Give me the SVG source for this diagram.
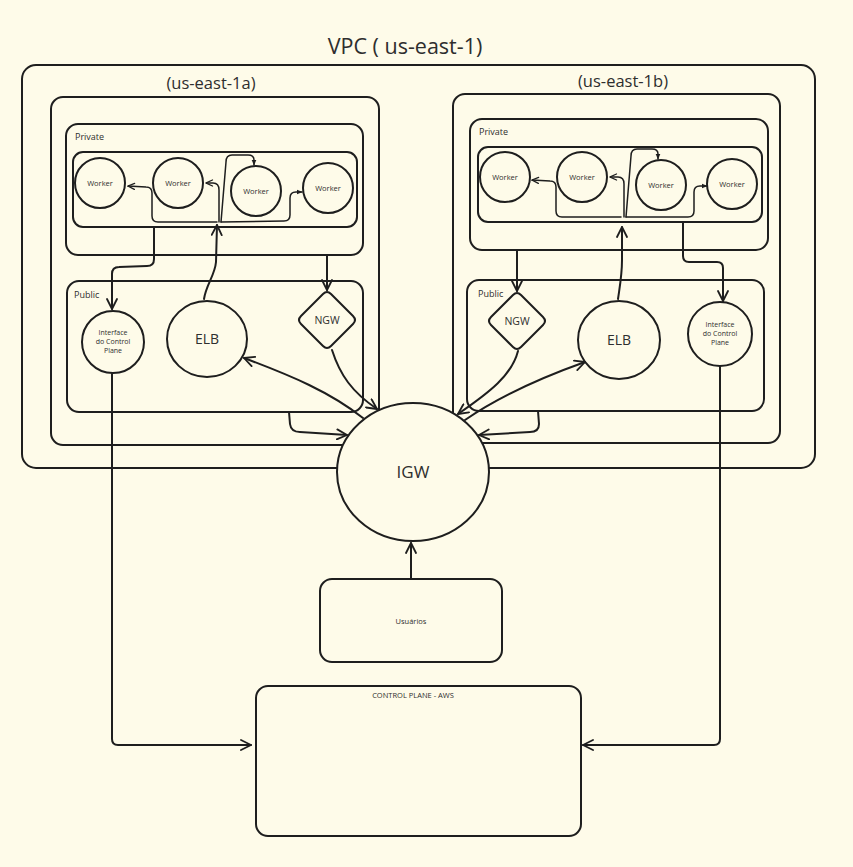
<svg xmlns="http://www.w3.org/2000/svg" width="853" height="867" viewBox="0 0 853 867">
<defs>
<marker id="arr" viewBox="0 0 12 12" refX="11" refY="6" markerWidth="12" markerHeight="12" markerUnits="userSpaceOnUse" orient="auto">
<path d="M1,1 L11,6 L1,11" fill="none" stroke="#1e1e1e" stroke-width="1.8" stroke-linecap="round" stroke-linejoin="round"/>
</marker>
<marker id="sm" viewBox="0 0 8 8" refX="7.5" refY="4" markerWidth="8" markerHeight="8" markerUnits="userSpaceOnUse" orient="auto">
<path d="M1,1 L7.5,4 L1,7" fill="none" stroke="#1e1e1e" stroke-width="1.3" stroke-linecap="round"/>
</marker>
<marker id="tri" viewBox="0 0 6 6" refX="5.5" refY="3" markerWidth="6" markerHeight="6" markerUnits="userSpaceOnUse" orient="auto">
<path d="M0,0.5 L6,3 L0,5.5 Z" fill="#1e1e1e"/>
</marker>
</defs>
<style>
.box{fill:none;stroke:#1e1e1e;stroke-width:2}
.node{fill:#fefbe9;stroke:#1e1e1e;stroke-width:2}
.t{font-family:"Open Sans","Noto Sans",sans-serif;fill:#2e2e2e}
.c{text-anchor:middle}
.ln{fill:none;stroke:#1e1e1e;stroke-width:2;stroke-linecap:round;stroke-linejoin:round}
.thin{fill:none;stroke:#1e1e1e;stroke-width:1.5;stroke-linecap:round;stroke-linejoin:round}
</style>
<rect width="853" height="867" fill="#fefbe9"/>

<g id="vpc">
<rect class="box" x="22" y="65" width="793" height="403" rx="14"/>
<text class="t c" x="405" y="54" font-size="21.5">VPC ( us-east-1)</text>
</g>
<g id="zone-a">
<rect class="box" x="51" y="97" width="328" height="348" rx="12"/>
<text class="t c" x="211" y="89" font-size="16.5">(us-east-1a)</text>
</g>
<g id="zone-b">
<rect class="box" x="453" y="94" width="327" height="349" rx="12"/>
<text class="t c" x="623" y="87" font-size="16.5">(us-east-1b)</text>
</g>

<g id="private-a">
<rect class="box" x="66" y="124" width="297" height="131" rx="12"/>
<text class="t" x="75" y="140" font-size="9">Private</text>
<rect class="box" x="73" y="152" width="284" height="75" rx="10"/>
</g>
<g id="worker-a1"><circle class="node" cx="100" cy="183" r="25"/><text class="t c" x="100" y="186" font-size="7.5">Worker</text></g>
<g id="worker-a2"><circle class="node" cx="178" cy="183" r="25"/><text class="t c" x="178" y="186" font-size="7.5">Worker</text></g>
<g id="worker-a3"><circle class="node" cx="256" cy="191" r="25"/><text class="t c" x="256" y="194" font-size="7.5">Worker</text></g>
<g id="worker-a4"><circle class="node" cx="328" cy="188" r="25"/><text class="t c" x="328" y="191" font-size="7.5">Worker</text></g>

<g id="public-a">
<rect class="box" x="67" y="281" width="296" height="131" rx="12"/>
<text class="t" x="74" y="298" font-size="9">Public</text>
</g>
<g id="iface-a">
<circle class="node" cx="113" cy="342" r="31"/>
<text class="t c" font-size="7"><tspan x="113" y="335">Interface</tspan><tspan x="113" y="344">do Control</tspan><tspan x="113" y="353">Plane</tspan></text>
</g>
<g id="elb-a">
<ellipse class="node" cx="207" cy="339" rx="40" ry="38"/>
<text class="t c" x="207" y="344" font-size="14">ELB</text>
</g>
<g id="ngw-a">
<path class="node" d="M323,294 Q327,290 331,294 L353,316 Q357,320 353,324 L331,346 Q327,350 323,346 L301,324 Q297,320 301,316 Z"/>
<text class="t c" x="327" y="324" font-size="10.5">NGW</text>
</g>

<g id="private-b">
<rect class="box" x="470" y="119" width="298" height="131" rx="12"/>
<text class="t" x="479" y="135" font-size="9">Private</text>
<rect class="box" x="478" y="147" width="284" height="75" rx="10"/>
</g>
<g id="worker-b1"><circle class="node" cx="505" cy="177" r="25"/><text class="t c" x="505" y="180" font-size="7.5">Worker</text></g>
<g id="worker-b2"><circle class="node" cx="582" cy="177" r="25"/><text class="t c" x="582" y="180" font-size="7.5">Worker</text></g>
<g id="worker-b3"><circle class="node" cx="661" cy="185" r="25"/><text class="t c" x="661" y="188" font-size="7.5">Worker</text></g>
<g id="worker-b4"><circle class="node" cx="732" cy="184" r="25"/><text class="t c" x="732" y="187" font-size="7.5">Worker</text></g>

<g id="public-b">
<rect class="box" x="467" y="280" width="297" height="131" rx="12"/>
<text class="t" x="478" y="297" font-size="9">Public</text>
</g>
<g id="ngw-b">
<path class="node" d="M513,295 Q517,291 521,295 L543,317 Q547,321 543,325 L521,347 Q517,351 513,347 L491,325 Q487,321 491,317 Z"/>
<text class="t c" x="517" y="325" font-size="10.5">NGW</text>
</g>
<g id="elb-b">
<ellipse class="node" cx="619" cy="340" rx="41" ry="39"/>
<text class="t c" x="619" y="345" font-size="14">ELB</text>
</g>
<g id="iface-b">
<circle class="node" cx="720" cy="334" r="32"/>
<text class="t c" font-size="7"><tspan x="720" y="327">Interface</tspan><tspan x="720" y="336">do Control</tspan><tspan x="720" y="345">Plane</tspan></text>
</g>

<g id="igw">
<ellipse class="node" cx="413" cy="472" rx="76" ry="69"/>
<text class="t c" x="413" y="478" font-size="17">IGW</text>
</g>
<g id="usuarios">
<rect class="node" x="320" y="579" width="182" height="83" rx="12"/>
<text class="t c" x="411" y="624" font-size="7.5">Usuários</text>
</g>
<g id="control-plane">
<rect class="node" x="256" y="686" width="325" height="150" rx="12"/>
<text class="t c" x="413" y="698" font-size="7.5">CONTROL PLANE - AWS</text>
</g>

<g id="connectors">
<path class="ln" d="M204,299 C206,285 215,275 216,262 L217,225" marker-end="url(#arr)"/>
<path class="thin" d="M217,222 L158,222 Q152,222 152,216 L152,193 Q152,187 146,187 L128,186" marker-end="url(#sm)"/>
<path class="thin" d="M219,222 L219,190 Q219,183 213,183 L206,183" marker-end="url(#sm)"/>
<path class="thin" d="M221,222 L226,162 Q226,155 232,155 L248,155 Q254,155 254,160 L254,165" marker-end="url(#tri)"/>
<path class="thin" d="M221,222 L284,221 Q290,221 290,215 L290,198 Q290,192 296,192 L302,192" marker-end="url(#tri)"/>
<path class="ln" d="M154,228 L154,259 Q154,266 147,266 L119,267 Q112,267 112,274 L112,309" marker-end="url(#arr)"/>
<path class="ln" d="M327,255 L327,290" marker-end="url(#arr)"/>
<path class="ln" d="M332,350 C340,375 352,392 377,409" marker-end="url(#arr)"/>
<path class="ln" d="M363,418 C330,392 292,376 244,358" marker-end="url(#arr)"/>
<path class="ln" d="M289,412 L290,424 Q291,432 300,432 L347,435" marker-end="url(#arr)"/>
<path class="ln" d="M112,374 L112,739 Q112,745 118,745 L251,745" marker-end="url(#arr)"/>

<path class="ln" d="M618,299 C620,285 622,275 622,260 L622,227" marker-end="url(#arr)"/>
<path class="thin" d="M621,217 L562,217 Q556,217 556,211 L556,187 Q556,181 550,181 L532,180" marker-end="url(#sm)"/>
<path class="thin" d="M624,217 L624,184 Q624,177 618,177 L610,177" marker-end="url(#sm)"/>
<path class="thin" d="M626,217 L631,156 Q631,149 637,149 L652,149 Q658,149 658,154 L658,159" marker-end="url(#tri)"/>
<path class="thin" d="M626,217 L688,217 Q694,217 694,211 L694,192 Q694,186 700,186 L707,186" marker-end="url(#tri)"/>
<path class="ln" d="M517,250 L517,291" marker-end="url(#arr)"/>
<path class="ln" d="M683,222 L683,256 Q683,262 689,262 L717,262 Q723,262 723,268 L723,301" marker-end="url(#arr)"/>
<path class="ln" d="M518,351 C512,375 490,392 458,414" marker-end="url(#arr)"/>
<path class="ln" d="M465,420 C500,396 540,378 585,362" marker-end="url(#arr)"/>
<path class="ln" d="M538,411 L539,424 Q539,432 530,432 L479,435" marker-end="url(#arr)"/>
<path class="ln" d="M720,366 L720,739 Q720,745 714,745 L583,745" marker-end="url(#arr)"/>
<path class="ln" d="M411,579 L411,543" marker-end="url(#arr)"/>
</g>
</svg>
